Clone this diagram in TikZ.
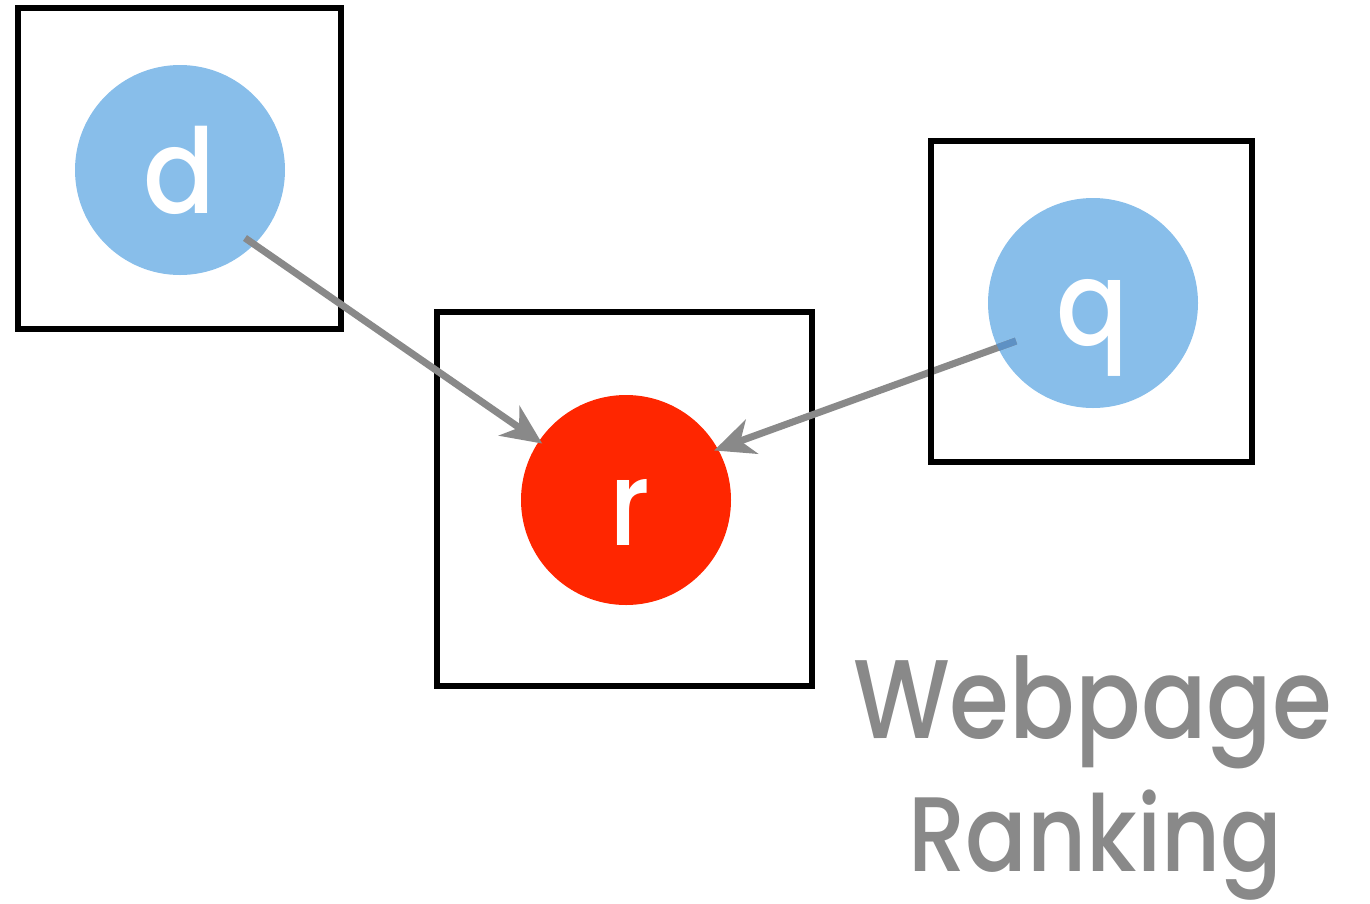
\documentclass[tikz,border=0pt]{standalone}
\usepackage{fontspec}
\setmainfont{Poppins Medium}
\usetikzlibrary{arrows.meta}
\definecolor{nodeblue}{RGB}{136,190,234}
\definecolor{nodered}{RGB}{255,38,0}
\definecolor{linkgray}{RGB}{137,137,137}
\definecolor{overlapblue}{RGB}{94,145,196}
\tikzset{
  x=1pt, y=-1pt,
  frame/.style={draw=black, line width=6pt, minimum width=323pt, minimum height=321pt, inner sep=0pt, outer sep=0pt},
  var/.style={circle, fill=#1, minimum size=210pt, inner sep=0pt, outer sep=0pt},
  letter/.style={text=white, anchor=base, inner sep=0pt, xscale=0.9, font=\fontsize{118}{130}\selectfont},
  link/.style={draw=linkgray, line width=7pt, shorten >=-4pt, -{Stealth[length=40pt,width=36pt,inset=12pt]}},
  caption/.style={text=linkgray, anchor=base west, inner sep=0pt, font=\fontsize{112}{130}\selectfont},
}
\begin{document}
\begin{tikzpicture}
\useasboundingbox (0,0) rectangle (1370,903);

% query variable and its plate
\node[frame, minimum width=321pt] (qbox) at (1091.5,301.5) {};
\node[var=nodeblue] (q) at (1093,303) {};
\node[letter] (qlabel) at (1092,345) {q};

% result variable and its plate
\node[frame, minimum width=375pt, minimum height=374pt] (rbox) at (624.5,499) {};
\node[var=nodered] (r) at (626,500) {};
\node[letter] (rlabel) at (630,545) {r};

% query -> result, with the part over q tinted
\coordinate (qtail) at (1016,341);
\draw[link] (qtail) -- (r.29);
\begin{scope}
  \clip (q.center) circle (105pt);
  \draw[overlapblue, line width=7pt] (qtail) -- (r.29);
\end{scope}
\node[frame, minimum width=321pt, fill=none] (qbox2) at (1091.5,301.5) {};

% document variable and its plate
\node[frame] (dbox) at (179.5,168.5) {};
\node[var=nodeblue] (d) at (180,170) {};
\node[letter] (dlabel) at (179,213) {d};

% document -> result
\coordinate (dtail) at (245,238);
\draw[link] (dtail) -- (r.146);

% caption
\node[caption, xscale=0.865] (cap1) at (853,738) {Webpage};
\node[caption, xscale=0.86, font=\fontsize{106}{130}\selectfont] (cap2) at (908,871) {Ranking};
\end{tikzpicture}
\end{document}
